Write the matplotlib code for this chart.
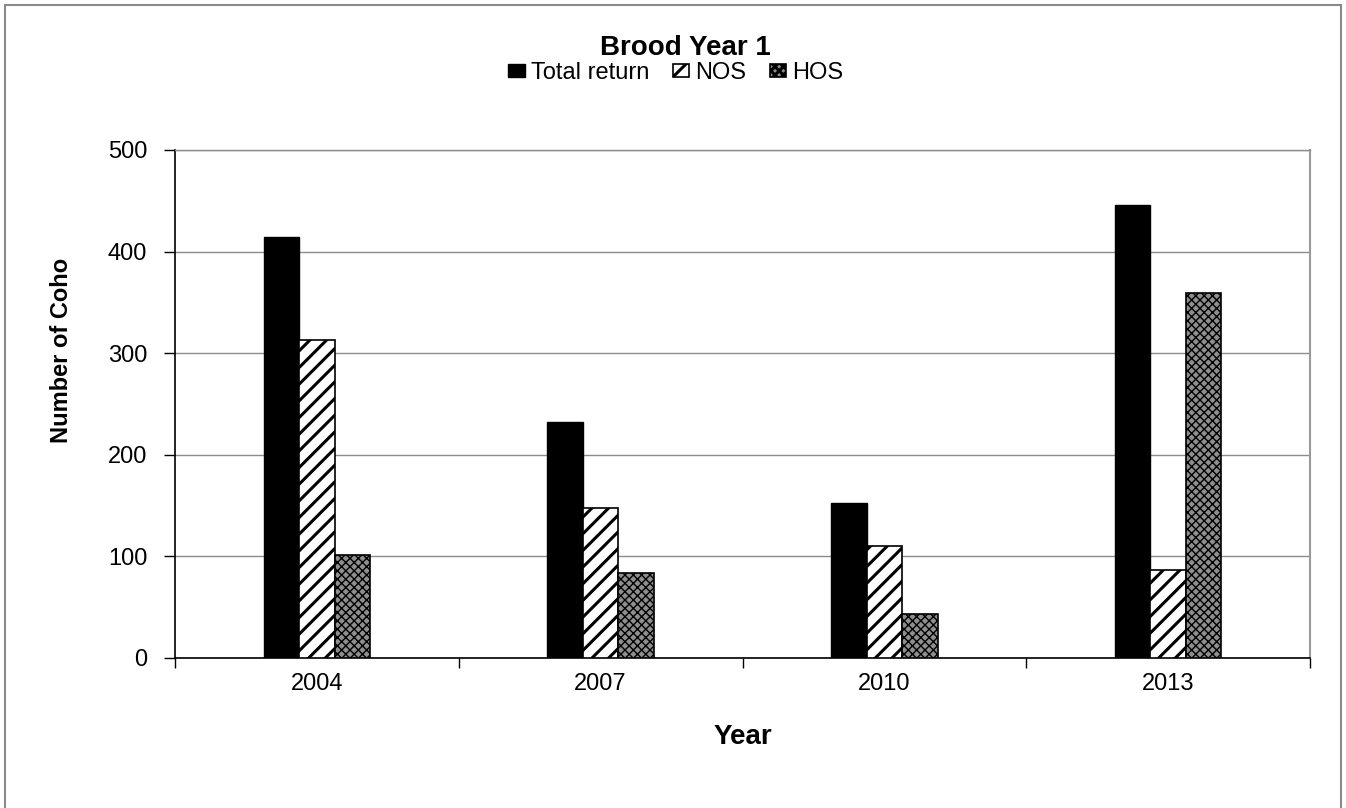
import numpy as np
import matplotlib.pyplot as plt
from matplotlib.patches import Rectangle

years = ["2004", "2007", "2010", "2013"]
total_return = [414, 232, 153, 446]
nos = [313, 148, 110, 87]
hos = [101, 84, 43, 359]

plt.rcParams['font.family'] = ['Liberation Sans', 'DejaVu Sans']
plt.rcParams['hatch.linewidth'] = 2.2

fig = plt.figure(figsize=(13.46, 8.08), dpi=100)
ax = fig.add_axes([175 / 1346, 1 - 658 / 808, 1135 / 1346, 508 / 808])

x = np.arange(len(years))
w = 0.125

b1 = ax.bar(x - w, total_return, w, color="black", edgecolor="black",
            linewidth=1, label="Total return", zorder=3)
b2 = ax.bar(x, nos, w, color="white", edgecolor="black", hatch="//",
            linewidth=1.2, label="NOS", zorder=3)
b3 = ax.bar(x + w, hos, w, color="#8e8e8e", edgecolor="black", hatch="xxxx",
            linewidth=1.2, label="HOS", zorder=3)
for p in b3:
    try:
        p.set_hatch_linewidth(1.0)
    except AttributeError:
        pass

ax.set_xlim(-0.5, 3.5)
ax.set_ylim(0, 500)
ax.set_yticks(range(0, 501, 100))
ax.yaxis.grid(True, color="#8c8c8c", linewidth=1, zorder=0)
ax.set_axisbelow(True)

ax.set_xticks(x)
ax.set_xticklabels(years, fontsize=17)
ax.set_xticks(np.arange(-0.5, 4.0, 1.0), minor=True)
ax.tick_params(axis="x", which="major", length=0, pad=11)
ax.tick_params(axis="x", which="minor", length=7, width=1, color="black", direction="out")
ax.tick_params(axis="y", length=8, width=1, direction="out", pad=12, labelsize=17)

for s in ["left", "bottom"]:
    ax.spines[s].set_color("black")
    ax.spines[s].set_linewidth(1.2)
ax.spines["right"].set_color("#9a9a9a")
ax.spines["right"].set_linewidth(1.5)
ax.spines["top"].set_color("#8c8c8c")
ax.spines["top"].set_linewidth(1)

fig.text(743 / 1346, 1 - 737 / 808, "Year", ha="center", va="center",
         fontsize=20, fontweight="bold")
fig.text(62 / 1346, 1 - 350 / 808, "Number of Coho", ha="center", va="center",
         rotation=90, fontsize=17, fontweight="bold")
fig.text(685 / 1346, 1 - 48 / 808, "Brood Year 1", ha="center", va="center",
         fontsize=20, fontweight="bold")

fig.legend(handles=[b1, b2, b3], labels=["Total return", "NOS", "HOS"],
           loc="center", bbox_to_anchor=(676 / 1346, 1 - 73 / 808), ncol=3,
           frameon=False, fontsize=17, handlelength=0.7, handleheight=0.5,
           handletextpad=0.25, columnspacing=1.0, borderpad=0)

fig.patches.append(Rectangle((5 / 1346, -0.01), 1336 / 1346, 1 - 5 / 808 + 0.01,
                             transform=fig.transFigure, fill=False,
                             edgecolor="#8a8a8a", linewidth=1.5))

fig.savefig("out.png", dpi=100)
